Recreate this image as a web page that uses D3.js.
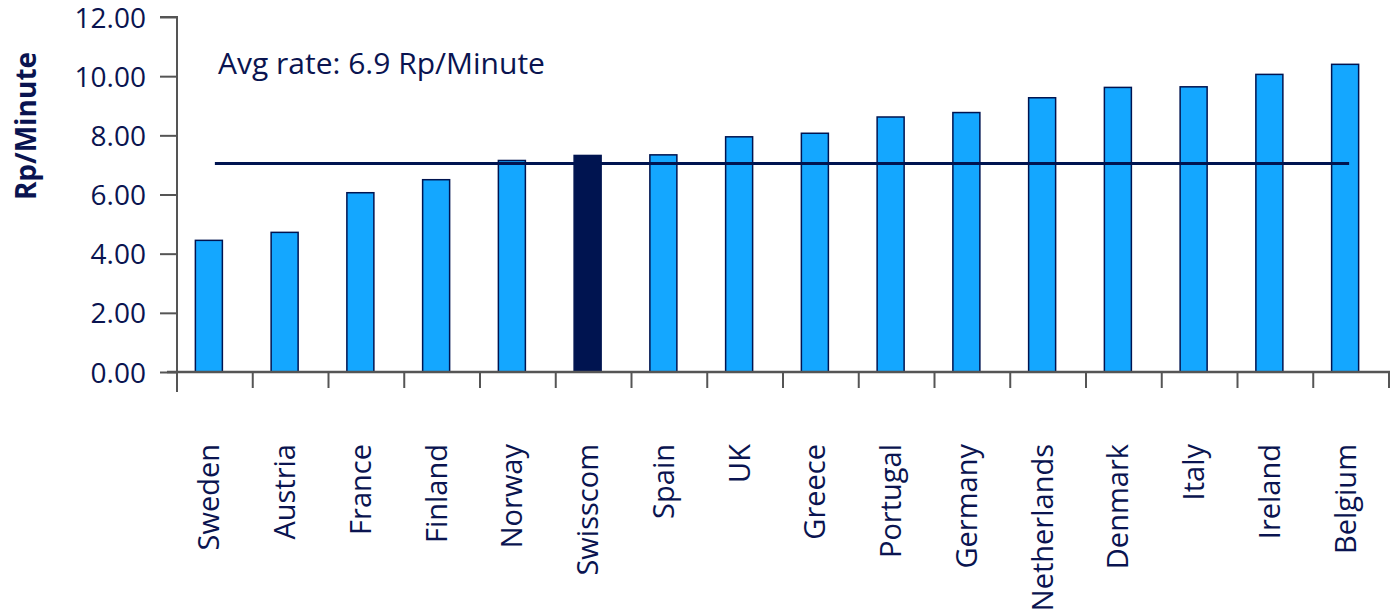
<!DOCTYPE html>
<html>
<head>
<meta charset="utf-8">
<script src="https://cdn.jsdelivr.net/npm/d3@7"></script>
<style>
  body { margin: 0; background: #fff; }
  text { font-family: "Open Sans", "Noto Sans", sans-serif; fill: #0a1450; }
</style>
</head>
<body>
<div id="chart"></div>
<script>
// Rp per minute, by operator country
const countries = ['Sweden', 'Austria', 'France', 'Finland', 'Norway', 'Swisscom', 'Spain', 'UK',
    'Greece', 'Portugal', 'Germany', 'Netherlands', 'Denmark', 'Italy', 'Ireland', 'Belgium'];
const rates = [4.45, 4.72, 6.06, 6.5, 7.15, 7.32, 7.34, 7.95, 8.07, 8.62, 8.77, 9.27, 9.62, 9.64, 10.06, 10.4];
const highlight = 'Swisscom';
const avgLineValue = 7.05;
const avgLabel = 'Avg rate: 6.9 Rp/Minute';
const yTicks = [0, 2, 4, 6, 8, 10, 12];

const W = 1393, H = 615;
const margin = { top: 17, right: 4, bottom: 243, left: 177 };
const width = W - margin.left - margin.right;
const height = H - margin.top - margin.bottom;

const navy = '#001450';
const lightBlue = '#14a7ff';
const axisGrey = '#555555';

const svg = d3.select('#chart').append('svg')
    .attr('width', W)
    .attr('height', H);

const g = svg.append('g')
    .attr('transform', `translate(${margin.left},${margin.top})`);

const x = d3.scaleBand()
    .domain(countries)
    .range([0, 1212]);

const y = d3.scaleLinear()
    .domain([0, 12])
    .range([height, 0]);

const barW = 27;
const barShift = -6;

// bars
g.selectAll('.bar')
    .data(countries)
    .enter()
    .append('rect')
    .attr('class', 'bar')
    .attr('x', (d) => x(d) + x.bandwidth() / 2 - barW / 2 + barShift)
    .attr('y', (d, i) => y(rates[i]))
    .attr('width', barW)
    .attr('height', (d, i) => height - y(rates[i]))
    .attr('fill', d => d === highlight ? navy : lightBlue)
    .attr('stroke', navy)
    .attr('stroke-width', 1.5);

// average line
g.append('line')
    .attr('x1', x(countries[0]) + x.bandwidth() / 2)
    .attr('x2', x(countries[countries.length - 1]) + x.bandwidth() / 2 - 2)
    .attr('y1', y(avgLineValue))
    .attr('y2', y(avgLineValue))
    .attr('stroke', navy)
    .attr('stroke-width', 3);

g.append('text')
    .attr('x', 41)
    .attr('y', y(10.06))
    .style('font-size', '30px')
    .text(avgLabel);

// y axis
const yAxis = g.append('g')
    .call(d3.axisLeft(y).tickValues(yTicks).tickSize(17).tickPadding(14).tickFormat(d3.format('.2f')));
yAxis.select('.domain').attr('stroke', axisGrey).attr('stroke-width', 2)
    .attr('d', `M-17,${y(12)}H0V${height + 20}`);
yAxis.selectAll('.tick line').attr('stroke', axisGrey).attr('stroke-width', 2);
yAxis.selectAll('.tick text')
    .style('font-size', '28px')
    .style('fill', '#0a1450')
    .attr('dy', '0.36em');

// x axis line + category dividers
g.append('line')
    .attr('x1', -10)
    .attr('x2', 1213)
    .attr('y1', height)
    .attr('y2', height)
    .attr('stroke', axisGrey)
    .attr('stroke-width', 2.5);

g.selectAll('.divider')
    .data(countries.slice(1))
    .enter()
    .append('line')
    .attr('x1', d => x(d))
    .attr('x2', d => x(d))
    .attr('y1', height)
    .attr('y2', height + 16)
    .attr('stroke', axisGrey)
    .attr('stroke-width', 2);

g.append('line')
    .attr('x1', 1212)
    .attr('x2', 1212)
    .attr('y1', height)
    .attr('y2', height + 16)
    .attr('stroke', axisGrey)
    .attr('stroke-width', 2);

// category labels
g.selectAll('.cat-label')
    .data(countries)
    .enter()
    .append('text')
    .attr('class', 'cat-label')
    .attr('transform', d => `translate(${x(d) + x.bandwidth() / 2 - 6},${height + 72}) rotate(-90)`)
    .attr('text-anchor', 'end')
    .attr('dy', '0.36em')
    .style('font-size', '29px')
    .text(d => d);

// y axis title
svg.append('text')
    .attr('transform', `translate(26,${126}) rotate(-90)`)
    .attr('text-anchor', 'middle')
    .attr('dy', '0.36em')
    .style('font-size', '28px')
    .style('font-weight', 'bold')
    .text('Rp/Minute');
</script>
</body>
</html>
